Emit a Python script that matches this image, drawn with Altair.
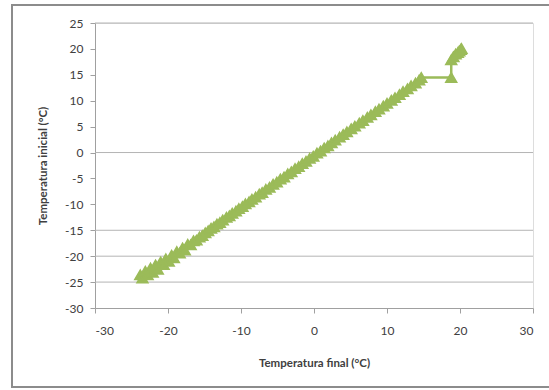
import altair as alt
import pandas as pd

# main diagonal run
x_main = [-23.8, -23.5, -23.1, -22.8, -22.4, -22.1, -21.7, -21.4, -21.0, -20.6,
          -20.3, -19.9, -19.5, -19.2, -18.8, -18.4, -18.0, -17.7, -17.3, -16.9,
          -16.5, -16.1, -15.7, -15.3, -14.9, -14.5, -14.1, -13.7, -13.3, -12.9,
          -12.5, -12.0, -11.6, -11.2, -10.7, -10.3, -9.8, -9.4, -8.9, -8.5,
          -8.0, -7.5, -7.1, -6.6, -6.1, -5.6, -5.1, -4.6, -4.1, -3.6,
          -3.1, -2.6, -2.1, -1.6, -1.1, -0.6, -0.1, 0.4, 0.9, 1.4,
          1.9, 2.4, 2.9, 3.5, 4.0, 4.5, 5.1, 5.6, 6.2, 6.7,
          7.3, 7.8, 8.4, 8.9, 9.5, 10.0, 10.6, 11.1, 11.7, 12.2,
          12.8, 13.3, 13.9, 14.4, 14.7]
y_main = [-23.6, -24.2, -22.9, -23.6, -22.3, -23.1, -21.7, -22.5, -21.1, -21.6,
          -20.5, -21.0, -19.8, -20.3, -19.1, -19.4, -18.4, -18.8, -17.7, -17.8,
          -17.0, -16.9, -16.3, -16.0, -15.5, -15.1, -14.6, -14.3, -13.8, -13.5,
          -13.0, -12.5, -12.2, -11.7, -11.3, -10.8, -10.4, -9.9, -9.5, -9.0,
          -8.6, -8.0, -7.7, -7.1, -6.7, -6.1, -5.7, -5.1, -4.7, -4.1,
          -3.7, -3.1, -2.7, -2.1, -1.7, -1.1, -0.7, -0.1, 0.3, 0.9,
          1.3, 1.9, 2.4, 3.0, 3.5, 4.0, 4.6, 5.1, 5.7, 6.2,
          6.8, 7.3, 7.9, 8.4, 9.0, 9.5, 10.1, 10.6, 11.2, 11.8,
          12.3, 12.9, 13.4, 14.0, 14.5]
# jump at the end
x_end = [18.8, 18.8, 19.1, 19.4, 19.7, 19.9, 20.1, 20.2]
y_end = [14.5, 17.9, 18.5, 19.0, 19.3, 19.6, 19.9, 20.1]

x_vals = x_main + x_end
y_vals = y_main + y_end
df = pd.DataFrame({"xf": x_vals, "yi": y_vals, "ord": list(range(len(x_vals)))})

grid_vals = [25, 0, -15, -20, -25]
grid_df = pd.DataFrame({"g": grid_vals})

x_ticks = [-30, -20, -10, 0, 10, 20, 30]
y_ticks = [25, 20, 15, 10, 5, 0, -5, -10, -15, -20, -25, -30]

GREEN = "#9BBB59"
FONT = "Lato"
LBL = "toString(datum.value)"

xs = alt.Scale(domain=[-30, 30], nice=False)
ys = alt.Scale(domain=[-30, 25], nice=False)

xaxis = alt.Axis(values=x_ticks, grid=False, title="Temperatura final (°C)",
                 labelExpr=LBL,
                 labelFont=FONT, labelFontSize=12, labelColor="#404040",
                 titleFont=FONT, titleFontSize=11.5, titleFontWeight="bold",
                 titleColor="#404040", domainColor="#a0a0a0", tickColor="#a0a0a0",
                 tickSize=5, labelPadding=12, titlePadding=21)
yaxis = alt.Axis(values=y_ticks, grid=False, title="Temperatura inicial (°C)",
                 labelExpr=LBL,
                 labelFont=FONT, labelFontSize=12, labelColor="#404040",
                 titleFont=FONT, titleFontSize=11.5, titleFontWeight="bold",
                 titleColor="#404040", domainColor="#a0a0a0", tickColor="#a0a0a0",
                 tickSize=5, labelPadding=7, titlePadding=16)

border = alt.Chart(pd.DataFrame({"a": [0]})).mark_rect(
    fill=None, stroke="#8c8c8c", strokeWidth=2, clip=False
).encode(x=alt.value(-83), x2=alt.value(470), y=alt.value(-18), y2=alt.value(364))

grid = alt.Chart(grid_df).mark_rule(color="#b4b4b4", strokeWidth=1).encode(
    y=alt.Y("g:Q", scale=ys, axis=yaxis)
)

line = alt.Chart(df).mark_line(color=GREEN, strokeWidth=2.5).encode(
    x=alt.X("xf:Q", scale=xs, axis=xaxis),
    y=alt.Y("yi:Q", scale=ys, axis=yaxis),
    order="ord:Q",
)
pts = alt.Chart(df).mark_point(shape="triangle-up", filled=True, size=120,
                               color=GREEN, opacity=1, stroke=GREEN,
                               strokeWidth=1.5).encode(
    x=alt.X("xf:Q", scale=xs, axis=xaxis),
    y=alt.Y("yi:Q", scale=ys, axis=yaxis),
)

chart = alt.layer(border, grid, line, pts).properties(
    width=438, height=285,
    padding={"left": 95, "top": 23, "right": 16, "bottom": 82},
    autosize="none",
).configure_view(stroke=None).configure(background="white")

chart.save("out.html", embed_options={"renderer": "svg", "actions": False})
